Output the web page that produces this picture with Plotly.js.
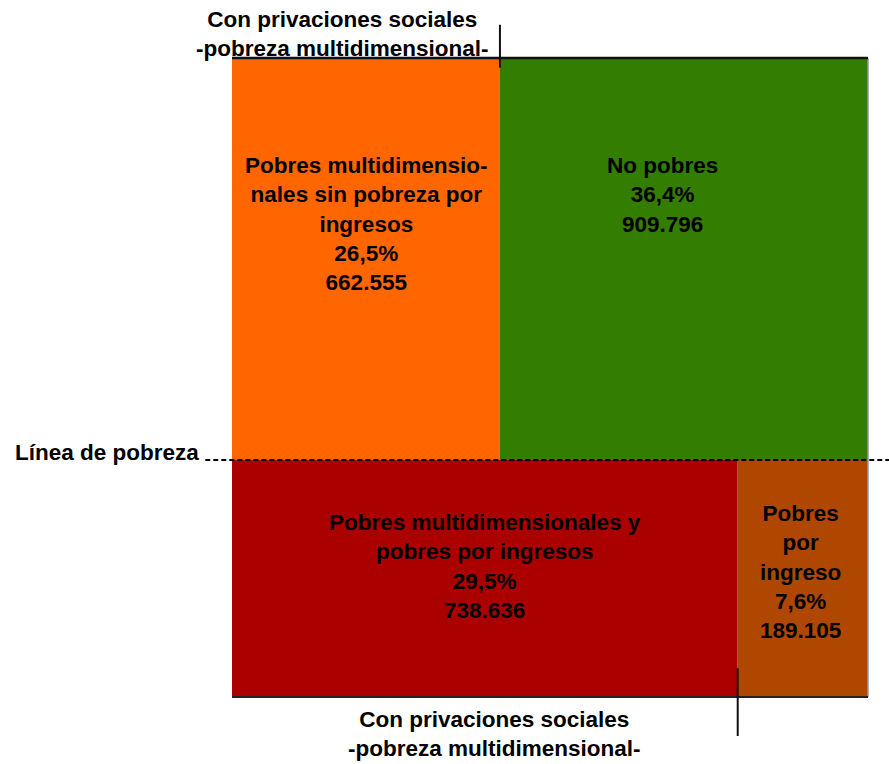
<!DOCTYPE html>
<html>
<head>
<meta charset="utf-8">
<script src="https://cdn.plot.ly/plotly-3.0.1.min.js"></script>
<style>html,body{margin:0;padding:0;background:#fff;}#chart{width:889px;height:764px;}</style>
</head>
<body>
<div id="chart"></div>
<script>
// Data
var categories = ["Pobres multidimensionales sin pobreza por ingresos", "No pobres", "Pobres multidimensionales y pobres por ingresos", "Pobres por ingreso"];
var percentages = [26.5, 36.4, 29.5, 7.6];
var population = ["662.555", "909.796", "738.636", "189.105"];
var percentLabels = ["26,5%", "36,4%", "29,5%", "7,6%"];
var cellText = [
  "Pobres multidimensio-<br>nales sin pobreza por<br>ingresos",
  "No pobres",
  "Pobres multidimensionales y<br>pobres por ingresos",
  "Pobres<br>por<br>ingreso"
];
var colors = ["#FF6600", "#337D00", "#AA0000", "#B04700"];

var topTotal = percentages[0] + percentages[1];
var botTotal = percentages[2] + percentages[3];
var total = topTotal + botTotal;
var yMid = botTotal / total;
var xTop = percentages[0] / topTotal;
var xBot = percentages[2] / botTotal;

var rects = [
  {x0: 0, x1: xTop, y0: yMid, y1: 1},
  {x0: xTop, x1: 1, y0: yMid, y1: 1},
  {x0: 0, x1: xBot, y0: 0, y1: yMid},
  {x0: xBot, x1: 1, y0: 0, y1: yMid}
];

var shapes = rects.map(function (r, i) {
  return {type: "rect", xref: "x", yref: "y", x0: r.x0, x1: r.x1, y0: r.y0, y1: r.y1,
    fillcolor: colors[i], line: {width: 0}, layer: "below"};
});
// right edge
shapes.push({type: "line", xref: "paper", yref: "paper", x0: 1, x1: 1, y0: 0, y1: 1, line: {color: "#999", width: 1.5}});
// top line
shapes.push({type: "line", xref: "paper", yref: "paper", x0: 0, x1: 1, y0: 1, y1: 1, line: {color: "#111", width: 2.5}});
// bottom line
shapes.push({type: "line", xref: "paper", yref: "paper", x0: 0, x1: 1, y0: 0, y1: 0, line: {color: "#222", width: 2}});
// vertical top divider
shapes.push({type: "line", xref: "paper", yref: "paper", x0: xTop, x1: xTop, y0: 0.985, y1: 1.052, line: {color: "#111", width: 2}});
// vertical bottom divider
shapes.push({type: "line", xref: "paper", yref: "paper", x0: xBot, x1: xBot, y0: 0.045, y1: -0.061, line: {color: "#111", width: 2}});
// poverty line
shapes.push({type: "line", xref: "paper", yref: "paper", x0: -0.042, x1: 1.033, y0: yMid, y1: yMid, line: {color: "#000", width: 2, dash: "5px,3px"}});

var font = {family: "Liberation Sans, Arial, sans-serif", size: 22.5, color: "#000", weight: "bold"};
var textPos = [
  {x: 0.2107, y: 0.741},
  {x: 0.677, y: 0.785},
  {x: 0.3975, y: 0.205},
  {x: 0.8945, y: 0.196}
];
var annotations = cellText.map(function (t, i) {
  return {xref: "paper", yref: "paper", x: textPos[i].x, y: textPos[i].y, xanchor: "center", yanchor: "middle",
    text: "<b>" + t + "<br>" + percentLabels[i] + "<br>" + population[i] + "</b>", showarrow: false, font: font, align: "center"};
});
annotations.push({xref: "paper", yref: "paper", x: 0.173, y: 1.038, xanchor: "center", yanchor: "middle", showarrow: false, font: font, align: "center",
  text: "<b>Con privaciones sociales<br>-pobreza multidimensional-</b>"});
annotations.push({xref: "paper", yref: "paper", x: 0.4135, y: -0.058, xanchor: "center", yanchor: "middle", showarrow: false, font: font, align: "center",
  text: "<b>Con privaciones sociales<br>-pobreza multidimensional-</b>"});
annotations.push({xref: "paper", yref: "paper", x: -0.049, y: 0.382, xanchor: "right", yanchor: "middle", showarrow: false, font: font, align: "right",
  text: "<b>Línea de pobreza</b>"});

var layout = {
  width: 889, height: 764,
  margin: {l: 232, r: 21, t: 58, b: 67, pad: 0},
  paper_bgcolor: "#fff", plot_bgcolor: "#fff",
  xaxis: {range: [0, 1], visible: false, fixedrange: true},
  yaxis: {range: [0, 1], visible: false, fixedrange: true},
  shapes: shapes,
  annotations: annotations,
  showlegend: false
};
Plotly.newPlot("chart", [{x: [0, 1], y: [0, 1], mode: "markers", marker: {opacity: 0}, hoverinfo: "skip", showlegend: false}], layout, {staticPlot: true});
</script>
</body>
</html>
